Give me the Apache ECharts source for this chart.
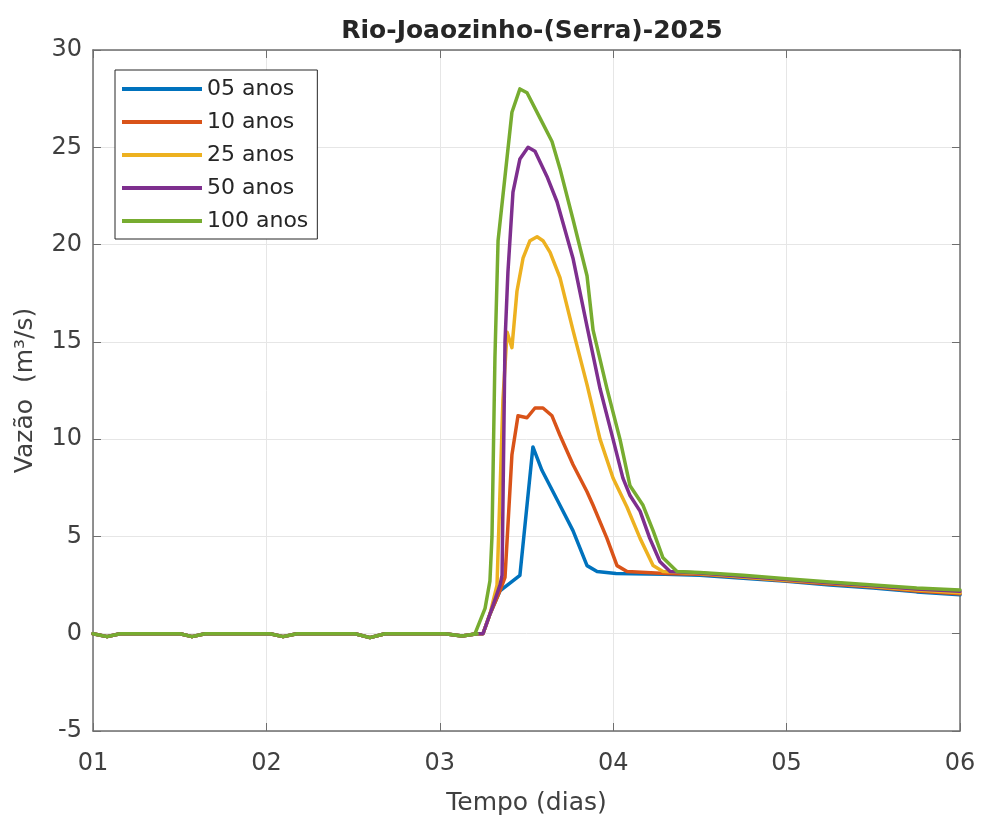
<!DOCTYPE html>
<html>
<head>
<meta charset="utf-8">
<script src="https://cdn.jsdelivr.net/npm/echarts@6/dist/echarts.min.js"></script>
<style>html,body{margin:0;padding:0;background:#fff;}#chart{width:981px;height:821px;}</style>
</head>
<body>
<div id="chart"></div>
<script>
// tick labels
const xTickLabels = ['01', '02', '03', '04', '05', '06'];
const seriesNames = ['05 anos', '10 anos', '25 anos', '50 anos', '100 anos'];

// shared baseline before the flood (days, m3/s)
const baseDays = [1.0, 1.081, 1.156, 1.502, 1.571, 1.646, 2.021, 2.096, 2.176, 2.511, 2.597, 2.684, 3.03, 3.128, 3.215];
const baseVals = [0, -0.15, 0, 0, -0.15, 0, 0, -0.15, 0, 0, -0.2, 0, 0, -0.12, 0];

// 05 anos
const q05Days = [3.249, 3.289, 3.347, 3.462, 3.537, 3.589, 3.693, 3.768, 3.849, 3.907, 4.016, 4.3, 4.5, 4.75, 5.0, 5.25, 5.5, 5.75, 6.0];
const q05Vals = [0.0, 1.0, 2.2, 3.0, 9.6, 8.4, 6.6, 5.3, 3.5, 3.2, 3.1, 3.05, 3.0, 2.85, 2.7, 2.5, 2.35, 2.15, 2.0];

// 10 anos
const q10Days = [3.249, 3.289, 3.347, 3.376, 3.416, 3.451, 3.503, 3.549, 3.595, 3.647, 3.693, 3.768, 3.849, 3.884, 3.964, 4.022, 4.080, 4.3, 4.5, 4.75, 5.0, 5.25, 5.5, 5.75, 6.0];
const q10Vals = [0.0, 1.0, 2.2, 2.9, 9.2, 11.2, 11.1, 11.6, 11.6, 11.2, 10.2, 8.7, 7.3, 6.6, 4.9, 3.5, 3.2, 3.1, 3.05, 2.9, 2.72, 2.55, 2.4, 2.2, 2.05];

// 25 anos
const q25Days = [3.249, 3.289, 3.330, 3.364, 3.388, 3.416, 3.445, 3.480, 3.520, 3.561, 3.595, 3.636, 3.693, 3.768, 3.849, 3.924, 3.999, 4.080, 4.155, 4.230, 4.287, 4.5, 4.75, 5.0, 5.25, 5.5, 5.75, 6.0];
const q25Vals = [0.0, 1.0, 2.5, 12.0, 15.5, 14.7, 17.6, 19.3, 20.2, 20.4, 20.2, 19.6, 18.3, 15.6, 12.8, 10.0, 8.0, 6.5, 4.9, 3.5, 3.2, 3.1, 2.92, 2.75, 2.6, 2.42, 2.25, 2.1];

// 50 anos
const q50Days = [3.249, 3.289, 3.347, 3.359, 3.376, 3.393, 3.422, 3.462, 3.509, 3.549, 3.618, 3.676, 3.768, 3.849, 3.924, 3.999, 4.056, 4.097, 4.155, 4.211, 4.270, 4.328, 4.5, 4.75, 5.0, 5.25, 5.5, 5.75, 6.0];
const q50Vals = [0.0, 1.0, 2.5, 3.0, 15.0, 18.6, 22.7, 24.4, 25.0, 24.8, 23.5, 22.2, 19.3, 15.8, 12.6, 10.0, 8.0, 7.1, 6.3, 4.9, 3.7, 3.2, 3.12, 2.95, 2.78, 2.62, 2.46, 2.3, 2.18];

// 100 anos
const q100Days = [3.203, 3.261, 3.289, 3.301, 3.318, 3.336, 3.376, 3.416, 3.462, 3.503, 3.578, 3.647, 3.693, 3.768, 3.849, 3.884, 3.964, 4.039, 4.097, 4.172, 4.230, 4.287, 4.368, 4.5, 4.75, 5.0, 5.25, 5.5, 5.75, 6.0];
const q100Vals = [0.0, 1.3, 2.7, 5.0, 14.2, 20.2, 23.5, 26.8, 28.0, 27.8, 26.5, 25.3, 23.9, 21.3, 18.4, 15.6, 12.6, 10.0, 7.6, 6.6, 5.3, 3.9, 3.2, 3.15, 3.0, 2.82, 2.66, 2.5, 2.35, 2.25];

const colors = ['#0072BD', '#D95319', '#EDB120', '#7E2F8E', '#77AC30'];

function build(days, vals) {
  const out = [];
  for (let i = 0; i < baseDays.length; i++) out.push([baseDays[i], baseVals[i]]);
  for (let i = 0; i < days.length; i++) out.push([days[i], vals[i]]);
  return out;
}
const allDays = [q05Days, q10Days, q25Days, q50Days, q100Days];
const allVals = [q05Vals, q10Vals, q25Vals, q50Vals, q100Vals];

const FONT = 'DejaVu Sans';
const axisColor = '#6e6e6e';
const labelColor = '#404040';

const chart = echarts.init(document.getElementById('chart'), null, {renderer: 'canvas'});
chart.setOption({
  animation: false,
  backgroundColor: '#ffffff',
  color: colors,
  title: {
    text: 'Rio-Joaozinho-(Serra)-2025',
    left: 527, textAlign: 'center', top: 14,
    textStyle: {fontFamily: FONT, fontSize: 25, fontWeight: 'bold', color: '#262626'}
  },
  legend: {
    orient: 'vertical', left: 115, top: 70,
    padding: [8, 9, 7, 7],
    itemWidth: 80, itemHeight: 4, itemGap: 11,
    icon: 'rect',
    borderColor: '#262626', borderWidth: 1, backgroundColor: '#ffffff',
    textStyle: {fontFamily: FONT, fontSize: 22, lineHeight: 22, color: '#262626'},
    data: seriesNames
  },
  grid: {left: 93, right: 21, top: 50, bottom: 88, containLabel: false},
  xAxis: [{
    type: 'value', min: 1, max: 6, interval: 1,
    name: 'Tempo (dias)', nameLocation: 'middle', nameGap: 60,
    nameTextStyle: {fontFamily: FONT, fontSize: 25, color: labelColor},
    axisLabel: {formatter: v => xTickLabels[Math.round(v) - 1], fontFamily: FONT, fontSize: 24, color: labelColor, margin: 21},
    axisLine: {show: true, onZero: false, lineStyle: {color: axisColor, width: 1.5}},
    axisTick: {show: true, inside: true, length: 8, lineStyle: {color: axisColor}},
    splitLine: {show: true, lineStyle: {color: '#e6e6e6', width: 1}}
  }, {
    type: 'value', min: 1, max: 6, interval: 1, position: 'top',
    axisLabel: {show: false},
    axisLine: {show: true, onZero: false, lineStyle: {color: axisColor, width: 1.5}},
    axisTick: {show: true, inside: true, length: 8, lineStyle: {color: axisColor}},
    splitLine: {show: false}
  }],
  yAxis: [{
    type: 'value', min: -5, max: 30, interval: 5,
    name: 'Vazão  (m³/s)', nameLocation: 'middle', nameGap: 55,
    nameTextStyle: {fontFamily: FONT, fontSize: 25, color: labelColor},
    axisLabel: {fontFamily: FONT, fontSize: 24, color: labelColor, margin: 11},
    axisLine: {show: true, onZero: false, lineStyle: {color: axisColor, width: 1.5}},
    axisTick: {show: true, inside: true, length: 8, lineStyle: {color: axisColor}},
    splitLine: {show: true, lineStyle: {color: '#e6e6e6', width: 1}}
  }, {
    type: 'value', min: -5, max: 30, interval: 5, position: 'right',
    axisLabel: {show: false},
    axisLine: {show: true, onZero: false, lineStyle: {color: axisColor, width: 1.5}},
    axisTick: {show: true, inside: true, length: 8, lineStyle: {color: axisColor}},
    splitLine: {show: false}
  }],
  series: seriesNames.map((name, i) => ({
    name: name,
    type: 'line',
    xAxisIndex: 0, yAxisIndex: 0,
    data: build(allDays[i], allVals[i]),
    showSymbol: false, symbol: 'none',
    smooth: false,
    lineStyle: {width: 3.5, color: colors[i], join: 'round', cap: 'round'},
    itemStyle: {color: colors[i]},
    emphasis: {disabled: true},
    z: 2 + i
  }))
});
</script>
</body>
</html>
